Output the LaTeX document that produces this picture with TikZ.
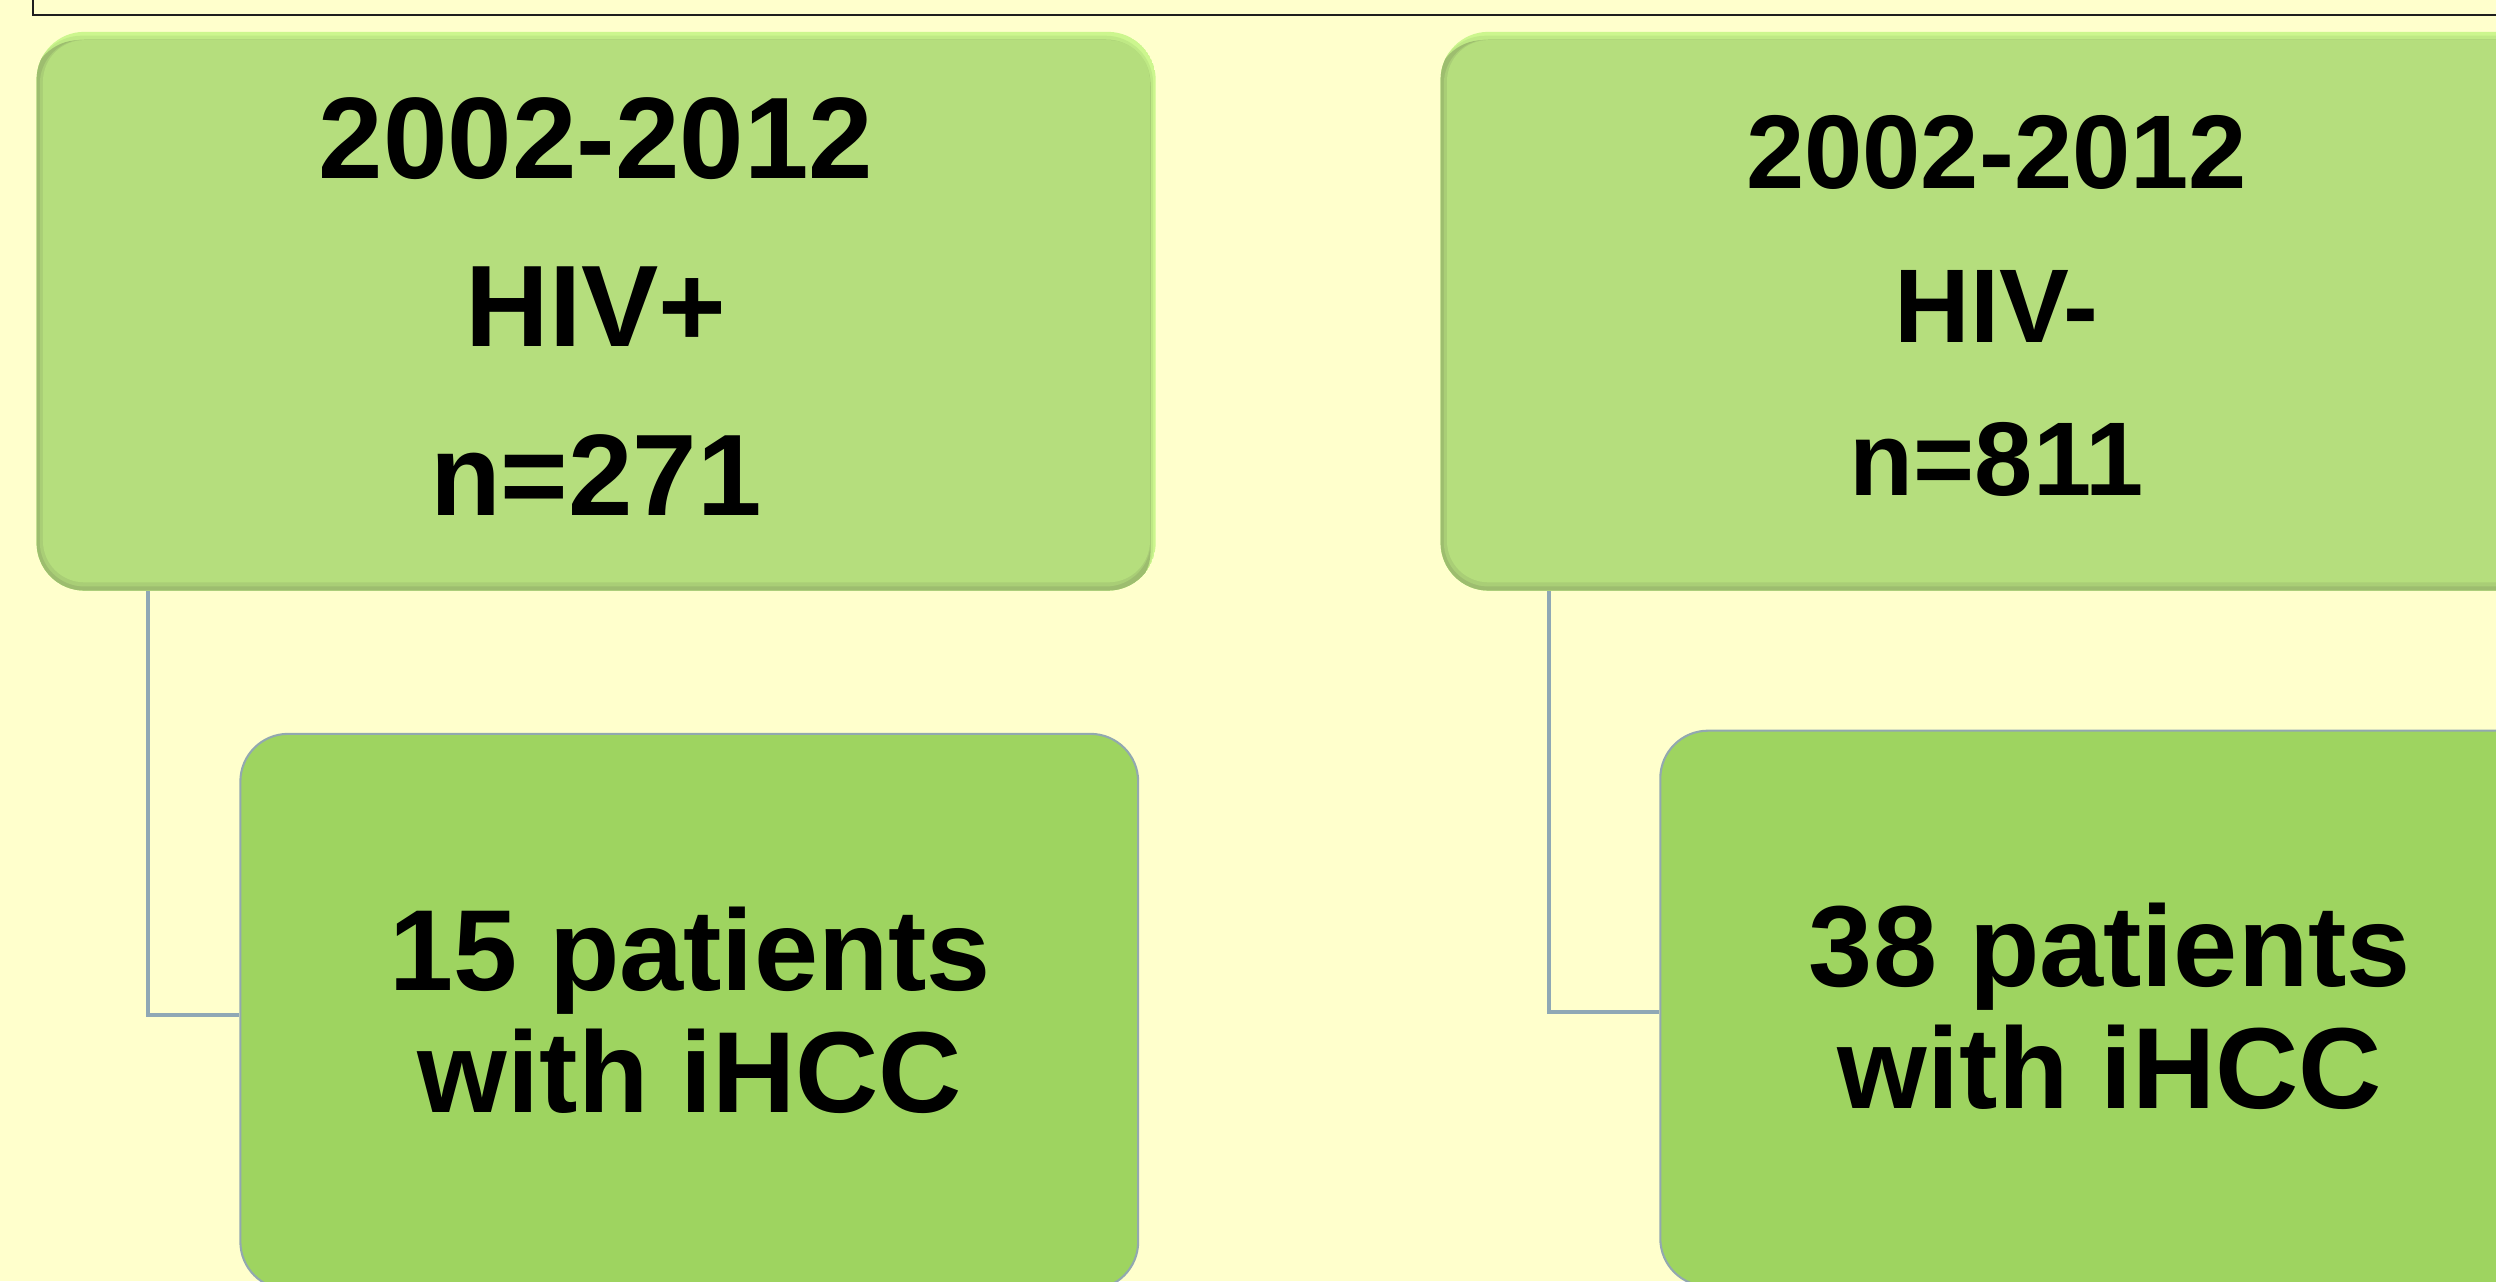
\documentclass[tikz,border=0pt]{standalone}
\usepackage{fontspec}
\setmainfont{Liberation Sans}
\usetikzlibrary{calc}
\definecolor{bg}{RGB}{255,255,204}
\definecolor{topM}{RGB}{181,222,125}
\definecolor{topL}{RGB}{204,246,142}
\definecolor{topD}{RGB}{157,189,111}
\definecolor{botM}{RGB}{158,212,96}
\definecolor{botE}{RGB}{146,168,176}
\definecolor{conn}{RGB}{143,168,181}
\definecolor{framec}{RGB}{30,30,30}
\tikzset{
  topbox/.style={rectangle, rounded corners=15pt, inner sep=0pt,
    minimum width=351.5pt, minimum height=175.5pt,
    path picture={
      \fill[topL] (path picture bounding box.south west) rectangle (path picture bounding box.north east);
      \fill[topL!45!topM, rounded corners=15pt]
        ($(path picture bounding box.south west)+(-0.8pt,-1.2pt)$) rectangle
        ($(path picture bounding box.north east)+(-0.8pt,-1.2pt)$);
      \fill[topD, rounded corners=15pt]
        ($(path picture bounding box.south west)+(-1.6pt,-2.6pt)$) rectangle
        ($(path picture bounding box.north east)+(-1.6pt,-2.6pt)$);
      \fill[topD!50!topM, rounded corners=14pt]
        ($(path picture bounding box.south west)+(1.0pt,1.3pt)$) rectangle
        ($(path picture bounding box.north east)+(-1.6pt,-2.4pt)$);
      \fill[topM, rounded corners=13pt]
        ($(path picture bounding box.south west)+(2.0pt,2.6pt)$) rectangle
        ($(path picture bounding box.north east)+(-1.8pt,-2.6pt)$);
    }},
  botbox/.style={rectangle, rounded corners=15pt, inner sep=0pt,
    fill=botM, draw=botE, line width=0.65pt,
    minimum width=282pt, minimum height=174.5pt},
  bigtext/.style={inner sep=0pt, align=center, text=black,
    font={\fontsize{36.4}{53}\selectfont\bfseries}},
  midtext/.style={inner sep=0pt, align=center, text=black,
    font={\fontsize{32.9}{48.2}\selectfont\bfseries}},
  bottext/.style={inner sep=0pt, align=center, text=black,
    font={\fontsize{36.2}{38.3}\selectfont\bfseries}},
  connector/.style={draw=conn, line width=1.1pt}
}
\begin{document}
\begin{tikzpicture}[x=0.5pt,y=-0.5pt]
\useasboundingbox (0,0) rectangle (1568,805);
\fill[bg] (0,0) rectangle (1568,805);
\clip (0,0) rectangle (1568,805);
% frame
\draw[framec, line width=0.65pt] (20.5,-20) -- (20.5,9.4) -- (1600,9.4);
% top boxes
\node[topbox] (hivp) at (374.5,195.5) {};
\node[topbox] (hivm) at (1256.5,195.5) {};
\node[bigtext] (thivp) at (374.4,192.5) {2002-2012\\HIV+\\n=271};
\node[midtext] (thivm) at (1254.3,192.4) {2002-2012\\HIV-\\n=811};
% bottom boxes
\node[botbox] (ihccp) at (433,635.5) {};
\node[botbox] (ihccm) at (1325,633.5) {};
\node[bottext] (tihccp) at (433.5,634.5) {15 patients\\with iHCC};
\node[bottext] (tihccm) at (1325.5,632) {38 patients\\with iHCC};
% connectors
\coordinate (kp) at (93,637.5);
\coordinate (km) at (973,635.6);
\draw[connector] (hivp.south -| kp) -- (kp) -- (kp -| ihccp.west);
\draw[connector] (hivm.south -| km) -- (km) -- (km -| ihccm.west);
\end{tikzpicture}
\end{document}
